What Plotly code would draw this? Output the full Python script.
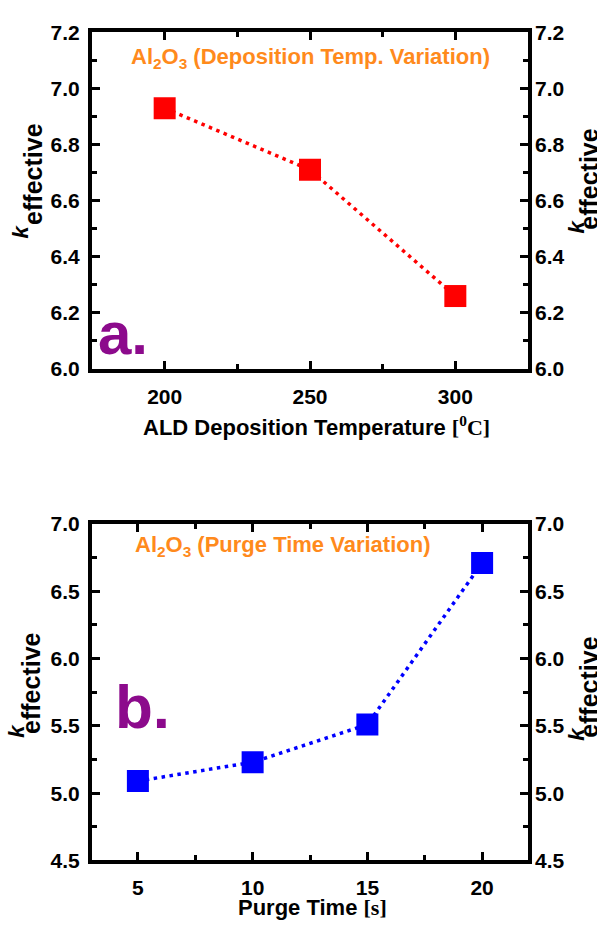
import plotly.graph_objects as go

# Panel a: deposition temperature series
temp_c = [200, 250, 300]
k_temp = [6.93, 6.71, 6.26]
temp_ticks = [200, 250, 300]

# Panel b: purge time series
purge_s = [5, 10, 15, 20]
k_purge = [5.09, 5.23, 5.51, 6.71]
purge_ticks = [5, 10, 15, 20]

W, H = 597, 929
BOLD = "Liberation Sans"
ORANGE = "#ff8a1c"
PURPLE = "#8c0a8c"

def py(px):
    return 1 - px / H

def pxx(px):
    return px / W

x_dom = [pxx(92), pxx(528)]
top_dom = [py(366), py(21)]
bot_dom = [py(870), py(525)]

fig = go.Figure()

line_kw = dict(width=3.5, dash="3.5px,4.5px")
fig.add_trace(go.Scatter(x=temp_c, y=k_temp, mode="lines+markers",
                         line=dict(color="#ff0000", **line_kw),
                         marker=dict(symbol="square", size=22, color="#ff0000"),
                         xaxis="x", yaxis="y", showlegend=False))
fig.add_trace(go.Scatter(x=purge_s, y=k_purge, mode="lines+markers",
                         line=dict(color="#0000ff", **line_kw),
                         marker=dict(symbol="square", size=22, color="#0000ff"),
                         xaxis="x2", yaxis="y2", showlegend=False))
# carriers for the right-hand tick label axes
fig.add_trace(go.Scatter(x=temp_c, y=k_temp, mode="markers", marker=dict(opacity=0),
                         xaxis="x", yaxis="y3", showlegend=False, hoverinfo="skip"))
fig.add_trace(go.Scatter(x=purge_s, y=k_purge, mode="markers", marker=dict(opacity=0),
                         xaxis="x2", yaxis="y4", showlegend=False, hoverinfo="skip"))

tickfont = dict(family=BOLD, size=21, color="black", weight="bold")
axis_common = dict(showline=True, linecolor="black", linewidth=4,
                   ticks="inside", ticklen=8, tickwidth=3, tickcolor="black",
                   mirror="ticks", showgrid=False, zeroline=False,
                   tickfont=tickfont)
minor_kw = dict(ticks="inside", ticklen=5, tickwidth=3, tickcolor="black")

fig.update_layout(
    width=W, height=H,
    margin=dict(l=0, r=0, t=0, b=0),
    paper_bgcolor="white", plot_bgcolor="white",
    xaxis=dict(domain=x_dom, anchor="y", range=[175, 325], tickvals=temp_ticks,
               minor=dict(dtick=25, tick0=175, **minor_kw),
               ticklabelstandoff=6, **axis_common),
    yaxis=dict(domain=top_dom, anchor="x", range=[6.0, 7.2], dtick=0.2, tickformat=".1f",
               minor=dict(dtick=0.1, **minor_kw),
               ticklabelstandoff=4, **axis_common),
    yaxis3=dict(overlaying="y", anchor="x", side="right", range=[6.0, 7.2], dtick=0.2,
                tickformat=".1f", showline=False, ticks="", showgrid=False, zeroline=False,
                tickfont=tickfont, ticklabelstandoff=6),
    xaxis2=dict(domain=x_dom, anchor="y2", range=[3, 22], tickvals=purge_ticks,
                minor=dict(dtick=2.5, tick0=0, **minor_kw),
                ticklabelstandoff=5, **axis_common),
    yaxis2=dict(domain=bot_dom, anchor="x2", range=[4.5, 7.0], dtick=0.5, tickformat=".1f",
                minor=dict(dtick=0.25, **minor_kw),
                ticklabelstandoff=4, **axis_common),
    yaxis4=dict(overlaying="y2", anchor="x2", side="right", range=[4.5, 7.0], dtick=0.5,
                tickformat=".1f", showline=False, ticks="", showgrid=False, zeroline=False,
                tickfont=tickfont, ticklabelstandoff=6),
)

def ann(text, x, y, size, color="black", angle=0, xanchor="center", yanchor="middle", family=BOLD):
    fig.add_annotation(text=text, x=pxx(x), y=py(y), xref="paper", yref="paper",
                       showarrow=False, textangle=angle, xanchor=xanchor, yanchor=yanchor,
                       font=dict(family=family, size=size, color=color, weight="bold"))

serif = '<span style="font-family:Liberation Serif">'
ann("ALD Deposition Temperature " + serif + "[<sup>0</sup>C]</span>", 316, 424, 22)
ann("Purge Time " + serif + "[s]</span>", 312, 918, 22)

# k_effective titles: italic k with a full-size subscript word, on both sides
for kx, ky, ex, ey in [(20, 225, 33, 166), (577, 220, 589, 171),
                       (17, 737, 31, 688), (577, 740, 589, 692)]:
    ann("<i>k</i>", kx, ky, 22, angle=-90)
    ann("effective", ex, ey, 25, angle=-90)

ann("Al<sub>2</sub>O<sub>3</sub> (Deposition Temp. Variation)", 310, 47, 22, color=ORANGE)
ann("Al<sub>2</sub>O<sub>3</sub> (Purge Time Variation)", 282, 548, 22, color=ORANGE)

ann("a.", 96, 330, 60, color=PURPLE, xanchor="left")
ann("b.", 113, 712, 62, color=PURPLE, xanchor="left")

fig.write_html("out.html")
